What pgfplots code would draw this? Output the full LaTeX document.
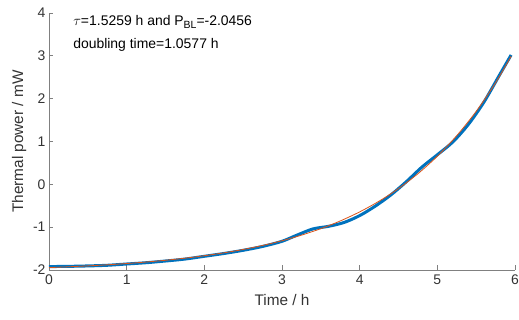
\documentclass[border=0pt]{standalone}
\usepackage{fontspec}
\setmainfont{Liberation Sans}
\usepackage{pgfplots}
\pgfplotsset{compat=1.18}
\usetikzlibrary{calc}
\definecolor{mblue}{rgb}{0,0.447,0.741}
\definecolor{morange}{rgb}{0.85,0.325,0.098}
\definecolor{axgray}{rgb}{0.5,0.5,0.5}
\definecolor{txtgray}{rgb}{0.2,0.2,0.2}
\begin{document}
\begin{tikzpicture}
\begin{axis}[
  scale only axis,
  width=466bp, height=257bp,
  xmin=0, xmax=6, ymin=-2, ymax=4,
  axis x line=bottom, axis y line=left,
  axis line style={axgray, line width=0.7pt, -},
  tick align=inside,
  major tick length=4.5bp,
  tick style={axgray, line width=0.7pt},
  xtick={0,1,2,3,4,5,6}, ytick={-2,-1,0,1,2,3,4},
  ticklabel style={font=\fontsize{14}{16}\selectfont, text=txtgray},
  xticklabel style={yshift=-1.5bp},
  /pgf/number format/assume math mode=true,
  xlabel={Time / h}, ylabel={Thermal power / mW},
  label style={font=\fontsize{15.4}{17}\selectfont, text=txtgray},
  xlabel style={yshift=-3bp},
  ylabel style={yshift=0bp},
  clip=false,
]
\coordinate (O) at (rel axis cs:0,0);
\coordinate (T) at (rel axis cs:1,1);
\addplot[mblue, line width=3bp, smooth, tension=0.5] coordinates {
(0,-1.92) (0.25,-1.915) (0.5,-1.905) (0.75,-1.89) (1,-1.86) (1.25,-1.83)
(1.5,-1.79) (1.75,-1.745) (2,-1.68) (2.25,-1.615) (2.5,-1.54) (2.75,-1.45)
(3,-1.33) (3.2,-1.18) (3.4,-1.04) (3.6,-0.98) (3.8,-0.89)
(4.0,-0.73) (4.2,-0.51) (4.4,-0.25) (4.6,0.06)
(4.8,0.40) (5.0,0.69) (5.2,0.99) (5.4,1.40)
(5.6,1.92) (5.8,2.55) (5.95,3.02)
};
\addplot[morange, line width=0.8bp, smooth] coordinates {
(0,-1.944) (0.25,-1.925) (0.5,-1.904) (0.75,-1.879) (1,-1.849) (1.25,-1.814)
(1.5,-1.773) (1.75,-1.724) (2,-1.667) (2.25,-1.600) (2.5,-1.521) (2.75,-1.427)
(3,-1.317) (3.25,-1.187) (3.5,-1.035) (3.75,-0.855) (4,-0.643) (4.25,-0.393)
(4.5,-0.099) (4.75,0.248) (5,0.656) (5.25,1.137) (5.5,1.703) (5.75,2.371)
(5.95,2.989)
};
\node[anchor=north west, align=left, font=\fontsize{14}{24}\selectfont, text=black, inner sep=0pt]
  at (axis cs:0.31,3.96)
  {$\tau$=1.5259 h and P\raisebox{-3.5bp}{\fontsize{10.5}{10}\selectfont BL}=-2.0456\\doubling time=1.0577 h};
\end{axis}
\pgfresetboundingbox
\path[use as bounding box] ($(O)+(-49bp,-50bp)$) rectangle ($(T)+(4bp,13bp)$);
\end{tikzpicture}
\end{document}
